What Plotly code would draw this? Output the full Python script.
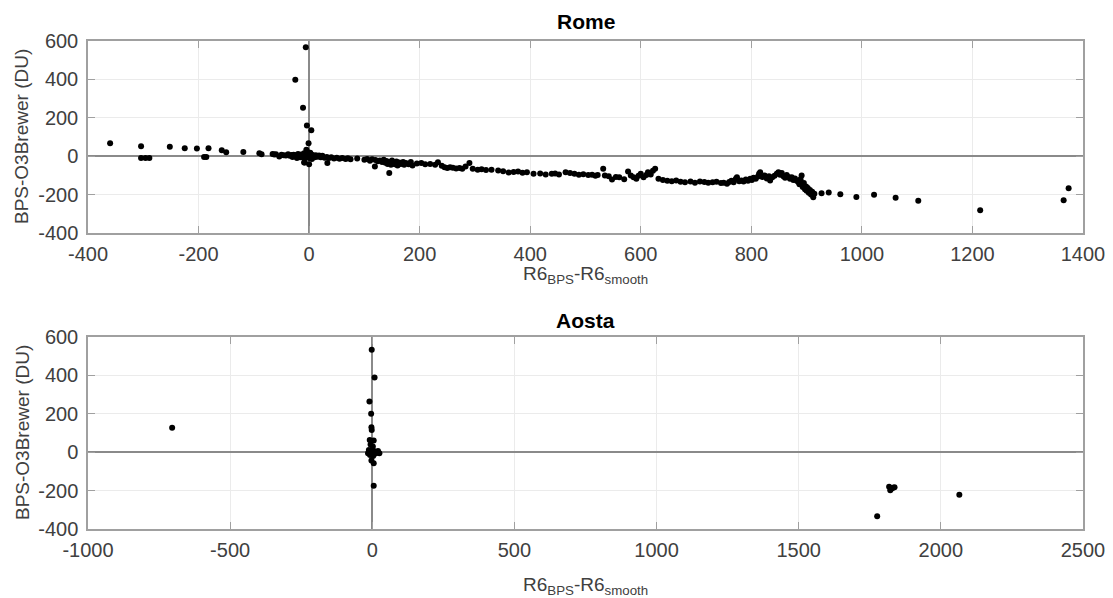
import plotly.graph_objects as go

# ---------------- data ----------------
rome_x = [-360, -304, -304, -296, -289, -252, -225, -203, -190, -186, -182, -158, -150, -119,
          -90, -86, -66, -63, -60, -54, -50, -46, -42, -38, -35, -32, -30, -28, -26, -24, -22,
          -20, -18, -16, -14, -12, -10, -9, -8, -7,
          -6, -25, -11, -4, 4, -1, -5, 0, -9, -3, 2,
          -6, -5, -4, -3, -2, -1, 0, 1, 2, 3, 4, 5, 6, 8, 10, 12, 15, 18, 21, 24, 28, 32, 33,
          36, 40, 45, 50, 55, 60, 66, 70, 75, 87, 100, 105, 110, 114, 119, 120, 124, 128, 132,
          135, 138, 140, 142, 145, 146, 148, 150, 152, 155, 158, 160, 163, 166, 170, 172, 175,
          180, 184, 187, 195, 203, 210, 219, 228, 233, 240, 245, 250, 255, 260, 266, 272, 277,
          283, 290, 296, 305, 312, 320, 330, 342, 351, 361, 370, 378, 386, 394, 406, 418, 428,
          439, 445, 452, 464, 472, 480, 488, 496, 505, 512, 518, 522, 532, 535, 542, 548, 555,
          561, 570, 577, 582, 587, 592, 596, 600, 605, 610, 613, 618, 622, 626, 632, 640, 648,
          656, 664, 672, 680, 690, 698, 707, 715, 722, 730, 737, 745, 750, 756, 760, 764, 768,
          772, 774, 778, 782, 786, 790, 794, 798, 801, 804, 808, 812, 814, 816, 820, 824, 828,
          832, 834, 838, 842, 846, 849, 852, 855, 858, 861, 864, 867, 870, 873, 876, 879, 882,
          885, 887, 889, 891, 892, 893, 895, 897, 899, 900, 902, 904, 906, 908, 910, 912, 914,
          927, 940, 961, 990, 1022, 1061, 1102, 1214, 1365, 1374]
rome_y = [68, 52, -9, -9, -9, 49, 42, 40, -4, -4, 42, 31, 21, 22,
          16, 10, 12, 9, 10, -2, 8, 5, 3, 10, 2, 6, -4, 8, 0, 5, -10,
          12, 3, -5, 9, 2, -8, 15, -33, 4,
          568, 398, 252, 160, 135, 68, 33, -42, -33, 22, 18,
          6, -6, 10, -2, 14, 4, -10, 8, -4, 12, 0, -14, 6, 2, -6, 5, -3, 3, -5, 2, -8, -4, -36,
          -10, -6, -12, -8, -13, -10, -14, -11, -16, -12, -18, -14, -24, -16, -54, -20, -26, -22, -30,
          -18, -34, -25, -40, -87, -30, -45, -22, -36, -42, -28, -48, -33, -40, -30, -45, -36,
          -42, -30, -49, -38, -35, -42, -40, -44, -31, -50, -57, -62, -58, -60, -64, -62, -66,
          -54, -35, -66, -70, -68, -72, -71, -75, -78, -85, -82, -80, -86, -83, -92, -90, -95,
          -92, -90, -95, -83, -88, -92, -96, -94, -98, -96, -102, -98, -66, -101, -104, -122, -108,
          -110, -120, -80, -100, -110, -118, -102, -92, -110, -98, -83, -95, -76, -66, -118, -124, -128,
          -130, -126, -133, -136, -132, -138, -132, -135, -138, -136, -133, -140, -138, -144, -134, -128, -136,
          -118, -110, -130, -126, -132, -122, -128, -118, -124, -112, -118, -106, -92, -83, -108, -100, -116,
          -104, -126, -110, -102, -92, -83, -96, -88, -104, -112, -98, -108, -118, -110, -124, -116, -128,
          -134, -146, -120, -100, -150, -160, -140, -172, -158, -180, -165, -190, -176, -200, -185, -214, -196,
          -193, -189, -198, -213, -201, -216, -232, -282, -230, -167]

aosta_x = [-704, -2, 8, -10, -4, -3, -2, -9, 5, -6, 2, -12, -5, 0, 4, 10, -15, 15, 25, 20,
           -8, 3, 6, -3, 5, 5, 1776, 1818, 1822, 1826, 1832, 1837, 2065]
aosta_y = [127, 533, 389, 264, 200, 130, 116, 64, 61, 40, 30, 12, 5, -2, 8, 2, -5, -4, -5, 6,
           -15, -20, -12, -43, -57, -175, -334, -180, -198, -190, -185, -182, -221]

rome_xticks = [-400, -200, 0, 200, 400, 600, 800, 1000, 1200, 1400]
aosta_xticks = [-1000, -500, 0, 500, 1000, 1500, 2000, 2500]
yticks = [-400, -200, 0, 200, 400, 600]

titles = ["Rome", "Aosta"]
xlabel = "R6<sub>BPS</sub>-R6<sub>smooth</sub>"
ylabel = "BPS-O3Brewer (DU)"

# ---------------- layout geometry (pixels) ----------------
W, H = 1113, 598
left, right = 88, 1083
top1, bot1 = 41, 233
top2, bot2 = 337, 529

def px(x):
    return x / W

def py(y):
    return 1 - y / H

FONT = "Arial, Liberation Sans, Helvetica, sans-serif"
TICKC = "#404040"
LINEC = "#a0a0a0"
GRIDC = "#ebebeb"
ZEROC = "#8a8a8a"

fig = go.Figure()
fig.add_trace(go.Scatter(x=rome_x, y=rome_y, mode="markers",
                         marker=dict(color="black", size=6), xaxis="x", yaxis="y",
                         showlegend=False))
fig.add_trace(go.Scatter(x=aosta_x, y=aosta_y, mode="markers",
                         marker=dict(color="black", size=6), xaxis="x2", yaxis="y2",
                         showlegend=False))

def xaxis(domain_anchor, rng, ticks):
    return dict(domain=[px(left), px(right)], anchor=domain_anchor, range=rng,
                automargin=False,
                tickmode="array", tickvals=ticks, ticktext=[str(t) for t in ticks],
                showgrid=True, gridcolor=GRIDC, gridwidth=1,
                zeroline=True, zerolinecolor=ZEROC, zerolinewidth=2,
                showline=True, linecolor=LINEC, linewidth=1.5, mirror="ticks",
                ticks="inside", ticklen=7, tickcolor=LINEC, tickwidth=1,
                ticklabelstandoff=2,
                tickfont=dict(family=FONT, size=20, color=TICKC))

def yaxis(domain, anchor):
    return dict(domain=domain, anchor=anchor, range=[-400, 600],
                automargin=False,
                tickmode="array", tickvals=yticks, ticktext=[str(t) for t in yticks],
                showgrid=True, gridcolor=GRIDC, gridwidth=1,
                zeroline=True, zerolinecolor=ZEROC, zerolinewidth=2,
                showline=True, linecolor=LINEC, linewidth=1.5, mirror="ticks",
                ticks="inside", ticklen=7, tickcolor=LINEC, tickwidth=1,
                ticklabelstandoff=4,
                tickfont=dict(family=FONT, size=20, color=TICKC))

annotations = []
for title, yc in zip(titles, [22, 320]):
    annotations.append(dict(text="<b>" + title + "</b>", x=px((left + right) / 2), y=py(yc),
                            xref="paper", yref="paper", xanchor="center", yanchor="middle",
                            showarrow=False, font=dict(family=FONT, size=21, color="black")))
for yc in [275, 586]:
    annotations.append(dict(text=xlabel, x=px((left + right) / 2), y=py(yc),
                            xref="paper", yref="paper", xanchor="center", yanchor="middle",
                            showarrow=False, font=dict(family=FONT, size=19, color=TICKC)))
for yc in [(top1 + bot1) / 2, (top2 + bot2) / 2]:
    annotations.append(dict(text=ylabel, x=px(22), y=py(yc), textangle=-90,
                            xref="paper", yref="paper", xanchor="center", yanchor="middle",
                            showarrow=False, font=dict(family=FONT, size=19, color=TICKC)))

fig.update_layout(
    width=W, height=H,
    margin=dict(l=0, r=0, t=0, b=0, autoexpand=False),
    paper_bgcolor="white", plot_bgcolor="white",
    xaxis=xaxis("y", [-400, 1400], rome_xticks),
    yaxis=yaxis([py(bot1), py(top1)], "x"),
    xaxis2=xaxis("y2", [-1000, 2500], aosta_xticks),
    yaxis2=yaxis([py(bot2), py(top2)], "x2"),
    annotations=annotations,
)

fig.write_html("out.html", config={"displayModeBar": False},
               post_script="document.body.style.margin='0px';document.body.style.overflow='hidden';")
